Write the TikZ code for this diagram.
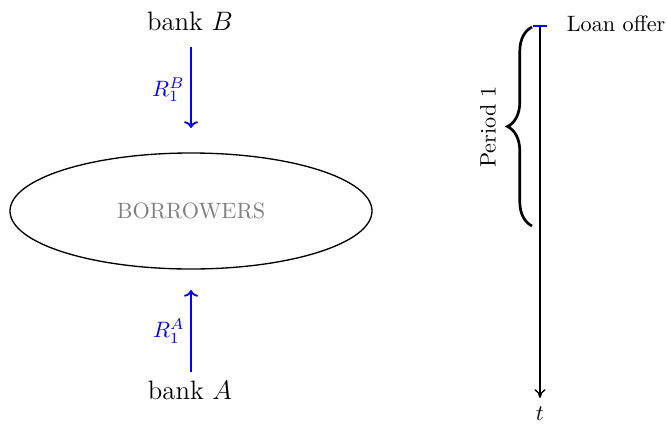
\documentclass[tikz,border=0pt]{standalone}
\usetikzlibrary{shapes.geometric,decorations.pathreplacing,arrows.meta}
\begin{document}
\begin{tikzpicture}[x=0.45pt,y=-0.45pt,
  flow/.style={draw=blue,thick,-{To[length=3pt]}},
  lab/.style={text=blue,inner sep=1pt,xshift=-1.5pt},
  bank/.style={font=\large},
  timeline/.style={draw=black,semithick,-{To[length=4pt,width=5pt]}}]
\useasboundingbox (0,0) rectangle (667,423);
\node[bank] (bankB) at (190,21) {bank $B$};
\node[bank] (bankA) at (190,390) {bank $A$};
\node[ellipse,draw,semithick,minimum width=362*0.45pt,minimum height=116*0.45pt,text=gray] (borr) at (191,211) {BORROWERS};
\coordinate (bt) at (191,47);
\coordinate (bb) at (191,128);
\coordinate (at) at (191,290);
\coordinate (ab) at (191,372);
\draw[flow] (bt) -- node[left,lab,yshift=-1pt] {$R_1^B$} (bb);
\draw[flow] (ab) -- node[left,lab] {$R_1^A$} (at);
\coordinate (t0) at (540,26);
\coordinate (t1) at (540,398);
\draw[timeline] (t0) -- (t1);
\node (t) at (540,414) {$t$};
\coordinate (tickL) at (533,26);
\coordinate (tickR) at (547,26);
\draw[blue,semithick] (tickL) -- (tickR);
\node[anchor=west] (loan) at (559,24) {Loan offer};
\coordinate (brT) at (532,27);
\coordinate (brB) at (532,226);
\draw[very thick,decorate,decoration={brace,amplitude=11pt}] (brB) -- (brT);
\node[rotate=90] (period) at (488,127) {Period 1};
\end{tikzpicture}
\end{document}
